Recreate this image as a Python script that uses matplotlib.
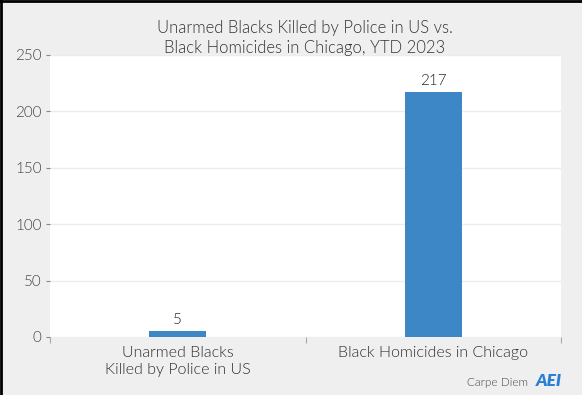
import matplotlib
matplotlib.use("Agg")
import matplotlib.pyplot as plt
from matplotlib.lines import Line2D

categories = ["Unarmed Blacks\nKilled by Police in US", "Black Homicides in Chicago"]
values = [5, 217]
yticks = [0, 50, 100, 150, 200, 250]

plt.rcParams["font.family"] = ["Lato", "DejaVu Sans"]
plt.rcParams["font.weight"] = 300

fig = plt.figure(figsize=(5.82, 3.95), dpi=100, facecolor="#efefef")
ax = fig.add_axes([50/582, 58/395, 511/582, 282/395])
ax.set_facecolor("white")

x = [0.5, 1.5]
bars = ax.bar(x, values, width=0.223, color="#3d87c6", zorder=3)
for xi, v in zip(x, values):
    ax.text(xi, v + 4, str(v), ha="center", va="bottom", fontsize=11, color="#222222")

ax.set_xlim(0, 2)
ax.set_ylim(0, 250)
ax.set_yticks(yticks)
ax.set_yticklabels([str(t) for t in yticks], fontsize=11, color="#444444")
ax.yaxis.grid(True, color="#ececec", linewidth=1, zorder=0)
ax.tick_params(axis="y", length=3, width=0.8, color="#888888", pad=3)

# category labels at band centres, ticks at band edges
ax.set_xticks([0, 1, 2])
ax.set_xticklabels([])
ax.tick_params(axis="x", length=4, width=0.8, color="#aaaaaa", direction="out")
for xi, lab in zip(x, categories):
    ax.text(xi, -8, lab, ha="center", va="top", fontsize=11.5, color="#2e2e2e",
            linespacing=1.3, clip_on=False)

for s in ax.spines.values():
    s.set_visible(False)

fig.text(305/582, 1 - 38/395, "Unarmed Blacks Killed by Police in US vs.\nBlack Homicides in Chicago, YTD 2023",
         ha="center", va="center", fontsize=12, color="#333333", linespacing=1.3)

fig.text(528/582, 1 - 382/395, "Carpe Diem", ha="right", va="center", fontsize=8.5, color="#444444")
fig.text(536/582, 1 - 381/395, "AEI", ha="left", va="center", fontsize=12.5, color="#2a7fd4",
         fontweight="heavy", fontstyle="italic")

# black frame on the left and top edges
fig.add_artist(Line2D([0.001, 0.001], [0, 1], transform=fig.transFigure, color="black", linewidth=2))
fig.add_artist(Line2D([0, 1], [0.998, 0.998], transform=fig.transFigure, color="black", linewidth=2))

fig.savefig("out.png", dpi=100, facecolor=fig.get_facecolor())
